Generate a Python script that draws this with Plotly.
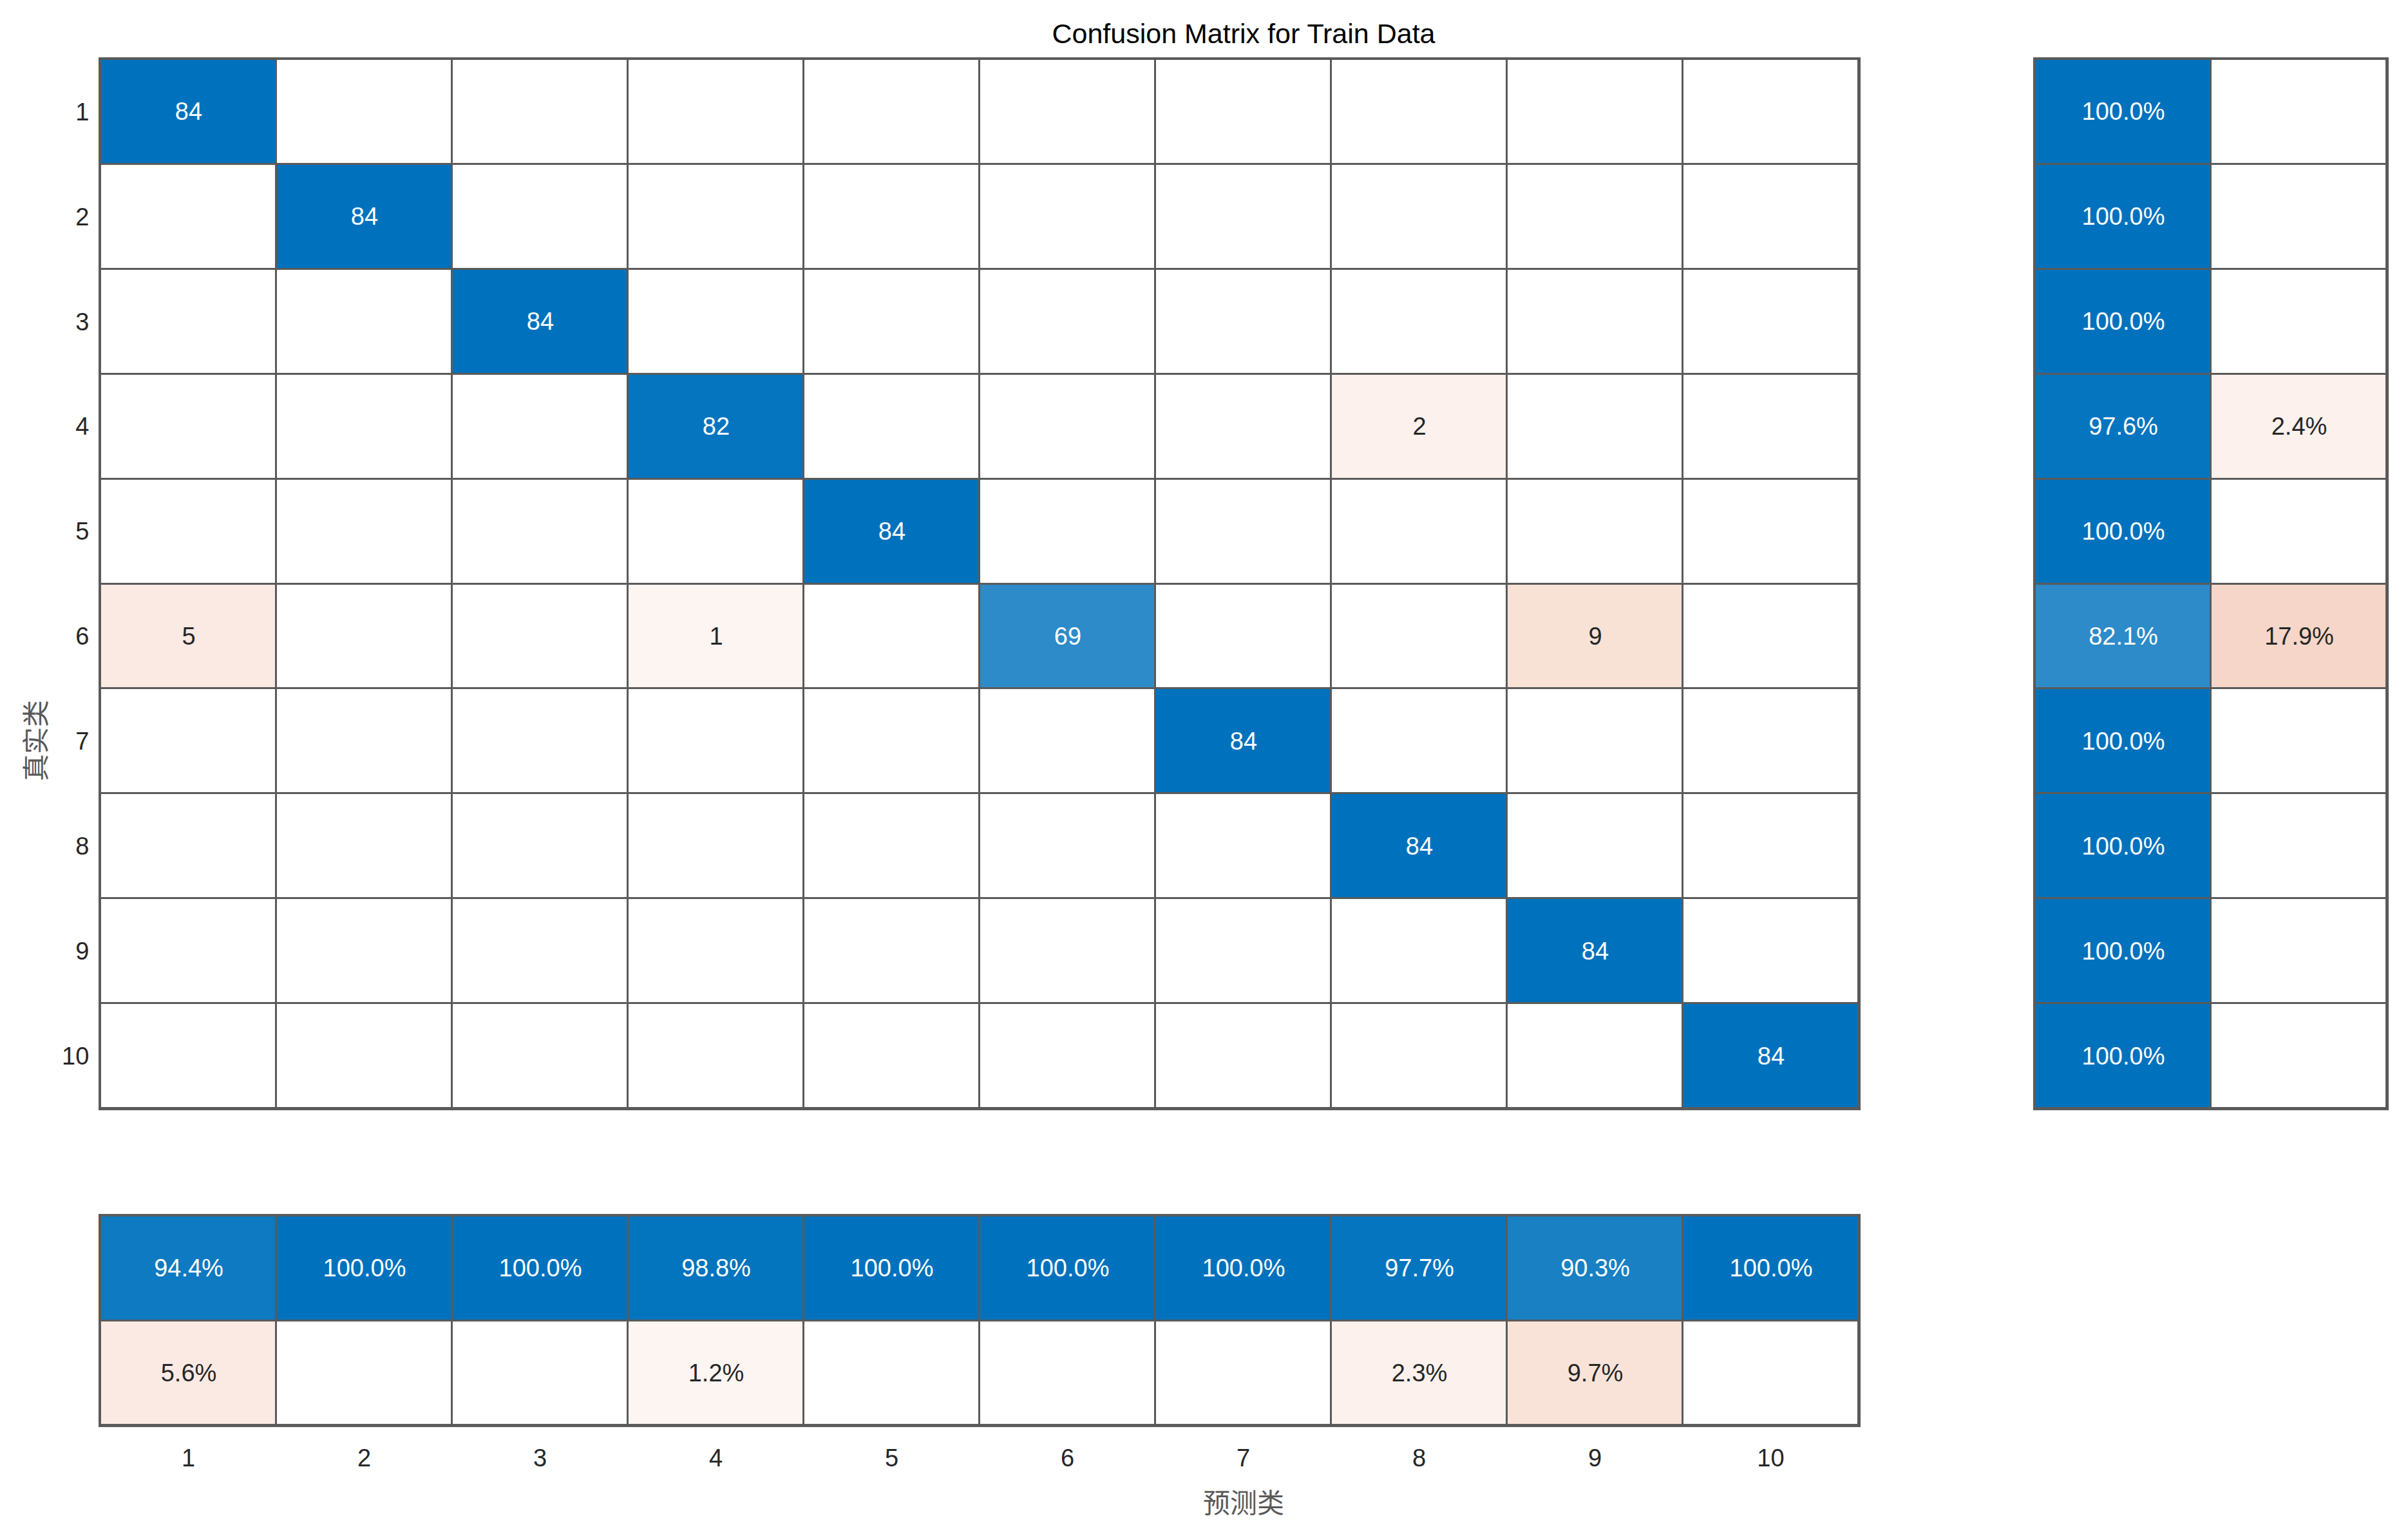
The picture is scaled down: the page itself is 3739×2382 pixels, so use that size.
import numpy as np
import plotly.graph_objects as go

# ---------------- data ----------------
classes = [1, 2, 3, 4, 5, 6, 7, 8, 9, 10]
tick_labels = ["1", "2", "3", "4", "5", "6", "7", "8", "9", "10"]

# confusion matrix: rows = true class, cols = predicted class
row1 = [84, 0, 0, 0, 0, 0, 0, 0, 0, 0]
row2 = [0, 84, 0, 0, 0, 0, 0, 0, 0, 0]
row3 = [0, 0, 84, 0, 0, 0, 0, 0, 0, 0]
row4 = [0, 0, 0, 82, 0, 0, 0, 2, 0, 0]
row5 = [0, 0, 0, 0, 84, 0, 0, 0, 0, 0]
row6 = [5, 0, 0, 1, 0, 69, 0, 0, 9, 0]
row7 = [0, 0, 0, 0, 0, 0, 84, 0, 0, 0]
row8 = [0, 0, 0, 0, 0, 0, 0, 84, 0, 0]
row9 = [0, 0, 0, 0, 0, 0, 0, 0, 84, 0]
row10 = [0, 0, 0, 0, 0, 0, 0, 0, 0, 84]

title_text = "Confusion Matrix for Train Data"
xlabel_text = "预测类"
ylabel_text = "真实类"

# ---------------- derived ----------------
cm = np.array([row1, row2, row3, row4, row5, row6, row7, row8, row9, row10], dtype=float)
n = len(classes)
diag = np.diag(cm)
recall = diag / cm.sum(axis=1) * 100.0
precision = diag / cm.sum(axis=0) * 100.0

FONT = "Liberation Sans, Arial, sans-serif"
CJK = "Noto Sans CJK SC, sans-serif"
BLUE = "#0072BD"
blue_scale = [[0, "#ffffff"], [1, BLUE]]
orange_scale = [[0, "#ffffff"], [0.012, "#fdf5f2"], [0.024, "#fcf1ed"], [0.06, "#fbe9e3"],
                [0.105, "#f8e2d6"], [0.18, "#f5d6c8"], [1, "#d95319"]]
white_scale = [[0, "#ffffff"], [1, "#ffffff"]]
GAP = 3
TXT = 38

W, H = 3739, 2382
OFF = 8  # page body margin offset


def px(xp):
    return (xp - OFF) / W


def py(yp):
    return 1 - (yp - OFF) / H


fig = go.Figure()


def add_block(xv, yv, zdiag, zoff, tdiag, toff, xa, ya, zmax):
    base = [[0] * len(xv) for _ in yv]
    common = dict(x=xv, y=yv, xaxis=xa, yaxis=ya, xgap=GAP, ygap=GAP,
                  showscale=False, hoverinfo="skip")
    fig.add_trace(go.Heatmap(z=base, colorscale=white_scale, zmin=0, zmax=1, **common))
    fig.add_trace(go.Heatmap(z=zdiag, text=tdiag, texttemplate="%{text}",
                             textfont=dict(family=FONT, size=TXT, color="#ffffff"),
                             colorscale=blue_scale, zmin=0, zmax=zmax, **common))
    fig.add_trace(go.Heatmap(z=zoff, text=toff, texttemplate="%{text}",
                             textfont=dict(family=FONT, size=TXT, color="#262626"),
                             colorscale=orange_scale, zmin=0, zmax=zmax, **common))


# main matrix
zd, zo, td, to = [], [], [], []
for i in range(n):
    rd, ro, rtd, rto = [], [], [], []
    for j in range(n):
        v = cm[i, j]
        if i == j and v > 0:
            rd.append(v); rtd.append(f"{int(v)}")
        else:
            rd.append(None); rtd.append("")
        if i != j and v > 0:
            ro.append(v); rto.append(f"{int(v)}")
        else:
            ro.append(None); rto.append("")
    zd.append(rd); zo.append(ro); td.append(rtd); to.append(rto)
add_block(classes, classes, zd, zo, td, to, "x", "y", cm.max())

# row summary (right)
zd, zo, td, to = [], [], [], []
for i in range(n):
    r = recall[i]
    e = 100.0 - r
    zd.append([r, None]); td.append([f"{r:.1f}%", ""])
    if e > 0.05:
        zo.append([None, e]); to.append(["", f"{e:.1f}%"])
    else:
        zo.append([None, None]); to.append(["", ""])
add_block([1, 2], classes, zd, zo, td, to, "x2", "y2", 100.0)

# column summary (bottom)
zd = [[p for p in precision], [None] * n]
td = [[f"{p:.1f}%" for p in precision], [""] * n]
zo = [[None] * n, [(100 - p) if (100 - p) > 0.05 else None for p in precision]]
to = [[""] * n, [f"{100 - p:.1f}%" if (100 - p) > 0.05 else "" for p in precision]]
add_block(classes, [1, 2], zd, zo, td, to, "x3", "y3", 100.0)

LINE = "#5a5a5a"
ax_common = dict(showgrid=False, zeroline=False, showline=True, mirror=True,
                 linecolor=LINE, linewidth=3, ticks="", fixedrange=True, automargin=False)

main_x = [px(156), px(2886)]
main_y = [py(1721), py(92)]

fig.update_layout(
    width=W, height=H,
    margin=dict(l=0, r=0, t=0, b=0, autoexpand=False),
    paper_bgcolor="#ffffff",
    plot_bgcolor=LINE,
    font=dict(family=FONT, size=TXT, color="#262626"),
    title=dict(text=title_text, x=px(1931), xanchor="center", y=py(52), yanchor="middle",
               font=dict(family=FONT, size=43, color="#000000"), automargin=False),
    xaxis=dict(domain=main_x, anchor="y", range=[0.5, n + 0.5], showticklabels=False, **ax_common),
    yaxis=dict(domain=main_y, anchor="x", range=[n + 0.5, 0.5], tickmode="array",
               tickvals=classes, ticktext=tick_labels, ticklabelstandoff=7,
               tickfont=dict(family=FONT, size=TXT, color="#262626"), **ax_common),
    xaxis2=dict(domain=[px(3160), px(3706)], anchor="y2", range=[0.5, 2.5], showticklabels=False, **ax_common),
    yaxis2=dict(domain=main_y, anchor="x2", range=[n + 0.5, 0.5], showticklabels=False, **ax_common),
    xaxis3=dict(domain=main_x, anchor="y3", range=[0.5, n + 0.5], tickmode="array",
                tickvals=classes, ticktext=tick_labels, ticklabelstandoff=15,
                tickfont=dict(family=FONT, size=TXT, color="#262626"), **ax_common),
    yaxis3=dict(domain=[py(2213), py(1888)], anchor="x3", range=[2.5, 0.5], showticklabels=False, **ax_common),
    annotations=[
        dict(text=xlabel_text, xref="paper", yref="paper", x=px(1931), y=py(2330),
             xanchor="center", yanchor="middle", showarrow=False,
             font=dict(family=CJK, size=42, color="#595959")),
        dict(text=ylabel_text, xref="paper", yref="paper", x=px(52), y=py(1150),
             xanchor="center", yanchor="middle", showarrow=False, textangle=-90,
             font=dict(family=CJK, size=42, color="#595959")),
    ],
)

fig.write_html("out.html")
